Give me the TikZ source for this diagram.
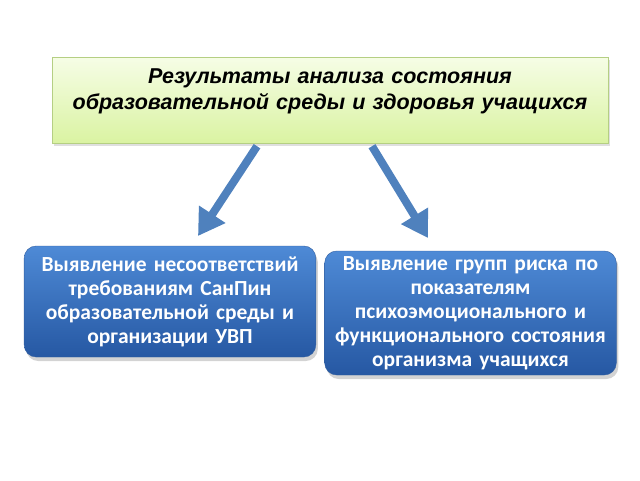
\documentclass[tikz,border=0pt]{standalone}
\usepackage{fontspec}
\newfontfamily\arialfont{Liberation Sans}
\newfontfamily\calibrifont{Carlito}
\usepackage{tikz}
\usetikzlibrary{arrows.meta,positioning,shadows}
\definecolor{greentop}{RGB}{246,253,230}
\definecolor{greenbottom}{RGB}{218,243,162}
\definecolor{greenline}{RGB}{181,207,131}
\definecolor{bluetop}{RGB}{78,138,214}
\definecolor{bluebottom}{RGB}{38,88,163}
\definecolor{blueline}{RGB}{52,96,160}
\definecolor{arrowblue}{RGB}{79,129,189}
\tikzset{
    %Define style for the result box
    resultbox/.style={
           rectangle,
           draw=greenline, thin,
           top color=greentop,
           bottom color=greenbottom,
           minimum width=556pt,
           minimum height=86pt,
           text width=540pt,
           align=center,
           font=\arialfont\bfseries\itshape\fontsize{21.5}{26}\selectfont,
           drop shadow={opacity=0.25, shadow xshift=2pt, shadow yshift=-3pt},
           },
    %Define style for the blue boxes
    findbox/.style={
           rectangle,
           rounded corners=12pt,
           draw=blueline, thin,
           top color=bluetop,
           bottom color=bluebottom,
           text=white,
           align=center,
           font=\calibrifont\bfseries\fontsize{21.5}{24}\selectfont,
           drop shadow={opacity=0.35, shadow xshift=2pt, shadow yshift=-4pt},
           },
    % Define arrow style
    pil/.style={
           -{Triangle[length=26pt, width=30pt]},
           line width=8pt,
           draw=arrowblue,
           },
}
\begin{document}
\begin{tikzpicture}[x=1pt,y=-1pt]
\useasboundingbox (0,0) rectangle (640,480);

 %nodes
\node[resultbox](result) at (330,100)
   {Результаты анализа состояния\\образовательной среды и здоровья учащихся\\[-4pt]\mbox{}};
\node[findbox, minimum width=290pt, minimum height=111pt, text width=285pt](sanpin) at (170,301.5)
   {Выявление несоответствий\\требованиям СанПин\\образовательной среды и\\организации УВП};
\node[findbox, minimum width=289pt, minimum height=124pt, text width=285pt](risk) at (470.5,313)
   {Выявление групп риска по\\показателям\\психоэмоционального и\\функционального состояния\\организма учащихся};

 %arrow tips
\coordinate (tipL) at (198,236);
\coordinate (tipR) at (428,238);

 %arrows
\draw[pil] ([xshift=-73pt,yshift=-3pt]result.south) -- (tipL);
\draw[pil] ([xshift=42pt,yshift=-3pt]result.south) -- (tipR);

\end{tikzpicture}
\end{document}
